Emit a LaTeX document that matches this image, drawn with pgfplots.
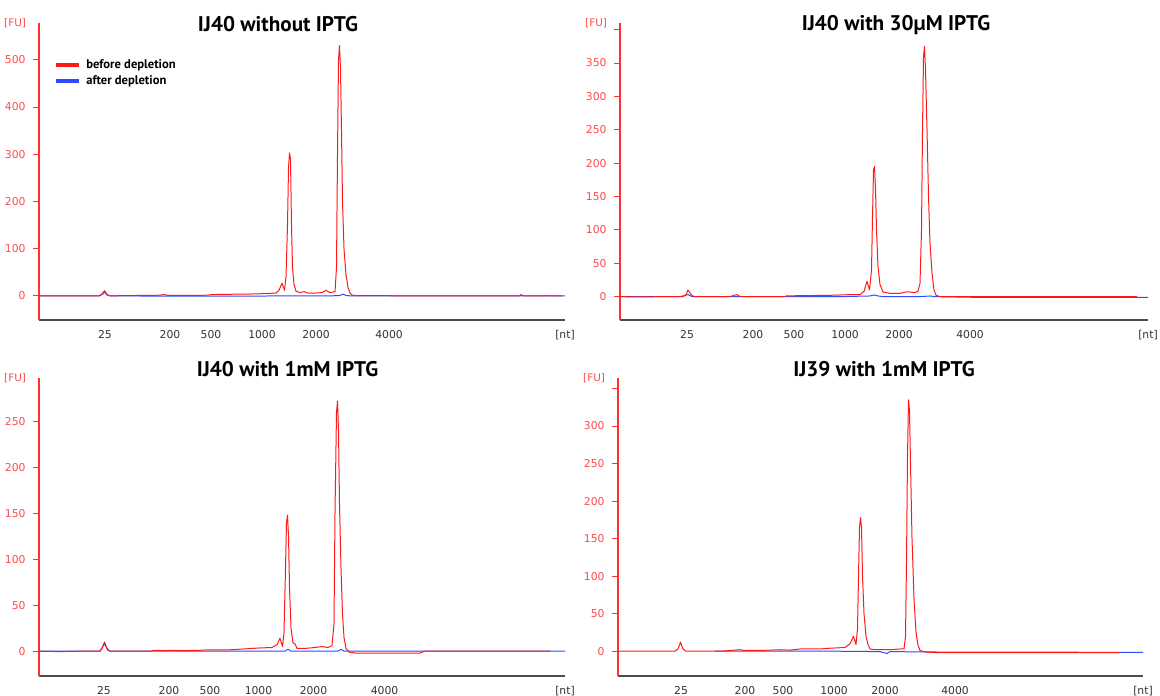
\documentclass[border=0pt]{standalone}
\usepackage{fontspec}
\usepackage{pgfplots}
\pgfplotsset{compat=1.18}
\setmainfont{DejaVu Sans}
\newfontfamily\titlefont{PT Sans}
\newfontfamily\tickfont{DejaVu Sans}
\definecolor{fured}{HTML}{FF3030}
\definecolor{tred}{HTML}{FF4A4A}
\definecolor{bfore}{HTML}{FF1A1A}
\definecolor{aftr}{HTML}{2E4BFF}

\pgfplotsset{
 bio/.style={
  scale only axis,
  axis x line*=bottom, axis y line*=left,
  x axis line style={black!70,-},
  y axis line style={fured,-},
  axis line style={line width=0.6pt},
  tick align=outside,
  major tick length=3pt,
  ytick style={fured, line width=0.5pt},
  xtick style={draw=none},
  /pgf/number format/assume math mode=true,
  yticklabel style={font=\tickfont\fontsize{5.4}{6}\selectfont, text=tred, xshift=-0.2pt},
  xticklabel style={font=\tickfont\fontsize{5.4}{6}\selectfont, text=black!80, yshift=1.2pt},
  clip=false,
  every axis plot/.append style={line width=0.5pt, line join=round},
 },
}
\newcommand{\FU}{\node[font=\tickfont\fontsize{5.2}{6}\selectfont, text=tred, anchor=east] at ([xshift=-3pt]rel axis cs:0,1) {[FU]};}

\pgfplotstableread{
x y
39 0
70 0
99 0
102 4
104.5 11
107 3
110 0
118 0
119 1
122 0.5
140 1
150 1
160 1.5
164 3
168 1
180 1
200 1
209 2
212 3
215 3
230 3.5
250 4
266 5
276 6
279 12
282 27
284.5 12
286 40
287.5 150
288.5 270
289.5 303
290.5 290
291.5 150
292.5 60
294 25
296 10
300 7
304 9
308 6
315 6
322 7
326 12
330 7
335 9
336.5 60
337.5 300
338.5 500
339.5 530
340.5 480
341.5 350
342.5 200
344 100
346 45
348 18
350 6
352 2
356 0.5
390 0.5
392 0
520 0
522 1.5
524 0
545 0
546 1
548 0
562 0
}\redA
\pgfplotstableread{
x y
39 0
99 0
102 3
104.5 8
107 2
110 0
200 -0.5
300 0
330 0
340 1
343 4
346 1
350 0
520 0
521 3
522 0
565 0
}\blueA
\pgfplotstableread{
x y
620 0
640 -0.5
660 0
683 0
686 3
688 10
691 3
694 0
730 0
734 2
737 3
740 0
785 0
786 1
800 1.5
830 2
850 3
860 3
864 8
867 23
869.5 10
871.5 40
872.5 120
873.5 190
874.5 195
875.5 160
876.5 100
878 45
880 18
883 7
890 5
900 5
906 7
910 7
914 6
918 8
920 20
921.5 100
922.5 250
923.5 360
924.5 375
925.5 340
927 250
928.5 150
930 80
932 35
934 10
936 2
940 0
1137 0
}\redB
\pgfplotstableread{
x y
620 0
680 0
688 3
692 0
840 0
870 1
874 2.5
878 1
884 0
920 0
930 1
935 0
975 -1
1148 -1
}\blueB
\pgfplotstableread{
x y
39 0
60 -0.5
80 0
100 0
102 3
104.5 10
107 3
110 0
150 0
155 1
165 0.5
175 1
180 0.5
200 1
210 1.5
230 1.5
245 2.5
260 3.5
272 4
277 7
280 14
282.5 5
284 20
285.5 90
286.5 140
287.5 148
288.5 125
289.5 70
291 25
293 9
295 8
297 3
305 3
315 4
322 5
328 4
332 6
334 30
335 150
336.5 260
337.5 272
338.5 240
339.5 160
341 90
342.5 40
344 15
346 3
349 -1
355 -2
420 -2
425 0
550 0
}\redC
\pgfplotstableread{
x y
39 0
100 0
104.5 8
108 1
110 0
285 0
288 2
291 0
338 0
341 2
344 0
565 0
}\blueC
\pgfplotstableread{
x y
618 0
675 0
678 3
680.5 12
683 3
686 0
720 0
730 1
740 2
745 1
760 1
780 2
790 1.5
800 3
820 3
830 4
845 5
850 10
853.5 20
856 9
857.5 30
858.5 100
859.5 165
860.5 178
861.5 165
862.5 100
864 50
866 20
868 9
870 3
875 2
890 2
900 3
904 3
905.5 20
906.5 120
907.5 260
908.5 335
909.5 320
910.5 250
912 150
914 70
916 25
918 8
920 1
925 -1
940 -2
1000 -2
1120 -2
}\redD
\pgfplotstableread{
x y
715 0
840 0
880 -0.5
887 -3
890 -0.5
930 -1
1143 -1.5
}\blueD

\begin{document}
\begin{tikzpicture}
\useasboundingbox (0,0) rectangle (580pt,-347.5pt);

% Panel 1
\begin{axis}[bio, at={(19.5pt,-160pt)}, anchor=south west,
  width=263pt, height=148.5pt,
  xmin=39, xmax=565, ymin=-51, ymax=578,
  xtick={105,170,211,262,316,389,565},
  xticklabels={25,200,500,1000,2000,4000,{[nt]}},
  ytick={0,100,200,300,400,500},
  reverse legend,
  legend cell align=left,
  legend image code/.code={\draw[#1, line width=2pt] (0pt,0pt) -- (11.5pt,0pt);},
  legend style={at={(axis description cs:0.028,0.892)}, anchor=north west, draw=none, fill=none, inner sep=0pt,
    font=\titlefont\bfseries\fontsize{6.3}{6.5}\selectfont, row sep=-2pt,
    nodes={inner xsep=2.6pt}},
  ]
\addplot[aftr] table[x=x,y=y] {\blueA};
\addlegendentry{after depletion}
\addplot[bfore] table[x=x,y=y] {\redA};
\addlegendentry{before depletion}
\FU
\end{axis}

% Panel 2
\begin{axis}[bio, at={(310pt,-160pt)}, anchor=south west,
  width=264pt, height=148.5pt,
  xmin=620, xmax=1148, ymin=-35, ymax=410,
  xtick={687,753,794,845,899,970,1148},
  xticklabels={25,200,500,1000,2000,4000,{[nt]}},
  ytick={0,50,100,150,200,250,300,350,400},
  yticklabels={0,50,100,150,200,250,300,350,{}},
  ]
\addplot[aftr] table[x=x,y=y] {\blueB};
\addplot[bfore] table[x=x,y=y] {\redB};
\FU
\end{axis}

% Panel 3
\begin{axis}[bio, at={(19.5pt,-338pt)}, anchor=south west,
  width=263pt, height=149pt,
  xmin=39, xmax=565, ymin=-27, ymax=297,
  xtick={104,169,210,258.5,313.5,384.5,565},
  xticklabels={25,200,500,1000,2000,4000,{[nt]}},
  ytick={0,50,100,150,200,250},
  ]
\addplot[aftr] table[x=x,y=y] {\blueC};
\addplot[bfore] table[x=x,y=y] {\redC};
\FU
\end{axis}

% Panel 4
\begin{axis}[bio, at={(309pt,-338pt)}, anchor=south west,
  width=262.5pt, height=149pt,
  xmin=618, xmax=1143, ymin=-33, ymax=364,
  xtick={681,745,783,834,885,955,1143},
  xticklabels={25,200,500,1000,2000,4000,{[nt]}},
  ytick={0,50,100,150,200,250,300,350},
  yticklabels={0,50,100,150,200,250,300,{}},
  ]
\addplot[aftr] table[x=x,y=y] {\blueD};
\addplot[bfore] table[x=x,y=y] {\redD};
\FU
\end{axis}

\begin{scope}[font=\titlefont\bfseries\fontsize{10.6}{12}\selectfont]
\node at (139pt,-12pt) {IJ40 without IPTG};
\node at (448pt,-12.5pt) {IJ40 with 30µM IPTG};
\node at (143.75pt,-184.5pt) {IJ40 with 1mM IPTG};
\node at (442pt,-184.5pt) {IJ39 with 1mM IPTG};
\end{scope}
\end{tikzpicture}
\end{document}
